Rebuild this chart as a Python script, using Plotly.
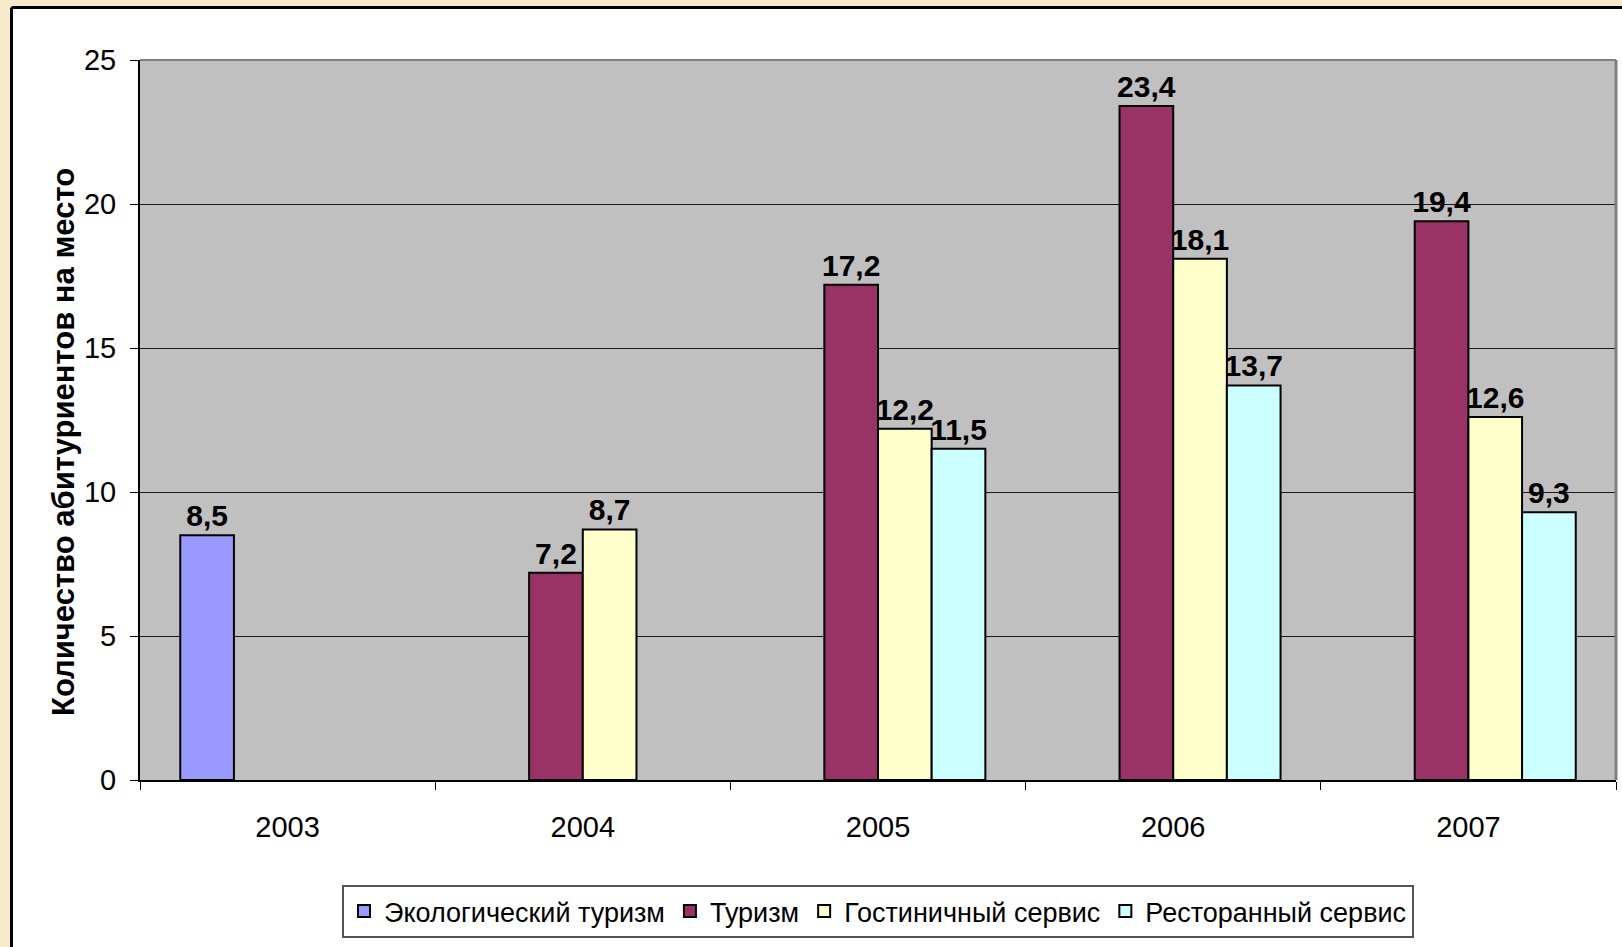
import plotly.graph_objects as go

# ---- data ----
years = ["2003", "2004", "2005", "2006", "2007"]
series_names = ["Экологический туризм", "Туризм", "Гостиничный сервис", "Ресторанный сервис"]
eco_tourism = [8.5, None, None, None, None]
tourism = [None, 7.2, 17.2, 23.4, 19.4]
hotel_service = [None, 8.7, 12.2, 18.1, 12.6]
restaurant_service = [None, None, 11.5, 13.7, 9.3]
y_title = "Количество абитуриентов на место"

# ---- styles ----
colors = ["#9999FF", "#993366", "#FFFFCC", "#CCFFFF"]
W, H = 1622, 947
ML, MR, MT, MB = 140, 6, 60, 167
PW, PH = W - ML - MR, H - MT - MB
NARROW = "Liberation Sans Narrow, Arial Narrow, Liberation Sans, Arial, sans-serif"
REG = "Liberation Sans, Arial, sans-serif"


def px(x):
    return (x - ML) / PW


def py(y):
    return (H - MB - y) / PH


fig = go.Figure()
for name, vals, col in zip(series_names, [eco_tourism, tourism, hotel_service, restaurant_service], colors):
    fig.add_trace(go.Bar(
        name=name, x=years, y=vals,
        marker=dict(color=col, line=dict(color="black", width=2)),
        texttemplate="%{y:.1f}", textposition="outside",
        textfont=dict(family=NARROW, size=30, color="black", weight="bold"),
        constraintext="none", cliponaxis=False,
    ))

shapes = [
    # beige frame outside the white panel
    dict(type="rect", xref="paper", yref="paper", x0=px(-5), x1=px(10), y0=py(H + 5), y1=py(-5),
         fillcolor="#F6EACA", line=dict(width=0), layer="above"),
    dict(type="rect", xref="paper", yref="paper", x0=px(-5), x1=px(W + 5), y0=py(6), y1=py(-5),
         fillcolor="#F6EACA", line=dict(width=0), layer="above"),
    # black border of white panel
    dict(type="line", xref="paper", yref="paper", x0=px(11.5), x1=px(11.5), y0=py(H + 5), y1=py(7.5),
         line=dict(color="black", width=3)),
    dict(type="line", xref="paper", yref="paper", x0=px(11.5), x1=px(W + 5), y0=py(7.5), y1=py(7.5),
         line=dict(color="black", width=3)),
    # plot-area top & right borders (grey)
    dict(type="line", xref="paper", yref="paper", x0=0, x1=1, y0=1, y1=1,
         line=dict(color="#808080", width=2)),
    dict(type="line", xref="paper", yref="paper", x0=1, x1=1, y0=0, y1=1,
         line=dict(color="#808080", width=3)),
]

fig.update_layout(
    width=W, height=H,
    margin=dict(l=ML, r=MR, t=MT, b=MB, pad=0),
    paper_bgcolor="white", plot_bgcolor="#C0C0C0",
    barmode="group", bargap=1.5 / 5.5, bargroupgap=0,
    separators=", ",
    showlegend=True,
    legend=dict(orientation="h", x=0.5, xanchor="center", y=py(885), yanchor="top",
                font=dict(family=REG, size=27, color="black"),
                bordercolor="#555555", borderwidth=2, bgcolor="white",
                itemwidth=30, traceorder="normal"),
    shapes=shapes,
    annotations=[dict(text=y_title, textangle=-90, xref="paper", yref="paper",
                      x=px(63), y=py(442), xanchor="center", yanchor="middle", showarrow=False,
                      font=dict(family=REG, size=31, color="black", weight="bold"))],
    xaxis=dict(type="category", tickson="boundaries", ticks="outside", ticklen=8, tickcolor="black",
               tickwidth=1, showline=True, linecolor="black", linewidth=2, showgrid=False,
               tickfont=dict(family=NARROW, size=29, color="black"), ticklabelstandoff=20),
    yaxis=dict(range=[0, 25], dtick=5, ticks="outside", ticklen=8, tickcolor="black", tickwidth=1,
               showline=True, linecolor="black", linewidth=2, showgrid=True, gridcolor="#1a1a1a",
               gridwidth=1, zeroline=False,
               tickfont=dict(family=NARROW, size=29, color="black"), ticklabelstandoff=8),
)

fig.write_html("out.html", config={"displayModeBar": False},
               post_script="document.body.style.margin='0';")
